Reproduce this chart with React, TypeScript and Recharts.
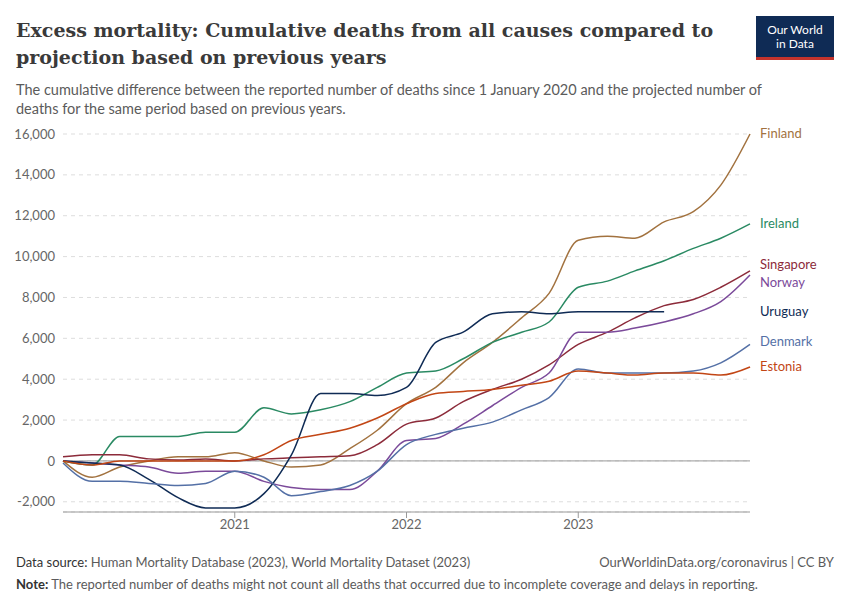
import React from "react";
import { LineChart, Line, XAxis, YAxis, CartesianGrid, ReferenceLine, LabelList } from "recharts";

const times = [2020, 2020.17, 2020.33, 2020.5, 2020.67, 2020.83, 2021, 2021.17, 2021.33, 2021.5, 2021.67, 2021.83, 2022, 2022.17, 2022.33, 2022.5, 2022.67, 2022.83, 2023, 2023.17, 2023.33, 2023.5, 2023.67, 2023.83, 2024];
const finland = [0, -800, -300, 0, 200, 200, 400, 0, -300, -200, 600, 1500, 2800, 3600, 4800, 5800, 7000, 8200, 10800, 11000, 10900, 11700, 12200, 13500, 16000];
const ireland = [0, -200, 1200, 1200, 1200, 1400, 1400, 2600, 2300, 2500, 2900, 3600, 4300, 4400, 5000, 5800, 6300, 6800, 8500, 8800, 9300, 9800, 10400, 10900, 11600];
const singapore = [200, 300, 300, 100, 50, 100, 0, 100, 150, 200, 250, 800, 1800, 2100, 2900, 3500, 4000, 4700, 5700, 6300, 7000, 7600, 7900, 8500, 9300];
const norway = [0, -100, -200, -300, -600, -500, -500, -1000, -1300, -1400, -1400, -500, 1000, 1100, 1800, 2700, 3600, 4300, 6300, 6300, 6500, 6800, 7200, 7800, 9100];
const uruguay = [0, -100, -200, -900, -1800, -2300, -2300, -1600, 300, 3300, 3300, 3200, 3600, 5800, 6300, 7200, 7300, 7200, 7300, 7300, 7300, 7300, null, null, null];
const denmark = [-100, -1000, -1000, -1100, -1200, -1100, -500, -800, -1700, -1500, -1200, -500, 800, 1300, 1600, 1900, 2500, 3100, 4500, 4300, 4300, 4300, 4400, 4800, 5700];
const estonia = [0, -200, 0, 0, 0, 0, 0, 300, 1000, 1300, 1600, 2100, 2800, 3300, 3400, 3500, 3700, 3900, 4400, 4300, 4200, 4300, 4300, 4200, 4600];

const series = [
  { key: "Finland", vals: finland, color: "#a2723f", labelDy: 0 },
  { key: "Ireland", vals: ireland, color: "#2a8a63", labelDy: 0 },
  { key: "Singapore", vals: singapore, color: "#8c2b3a", labelDy: -6 },
  { key: "Norway", vals: norway, color: "#7b4a9a", labelDy: 8 },
  { key: "Uruguay", vals: uruguay, color: "#0f2b55", labelDy: 0 },
  { key: "Denmark", vals: denmark, color: "#5470a6", labelDy: -2 },
  { key: "Estonia", vals: estonia, color: "#c24615", labelDy: 0 },
];

const data = times.map((t, i) => {
  const row: any = { t };
  series.forEach((s) => (row[s.key] = s.vals[i]));
  return row;
});

const fmt = (v: number) => v.toLocaleString("en-US");

export default function App() {
  return (
    <div style={{ width: 834, fontFamily: "Lato, sans-serif", position: "relative", height: 584 }}>
      <div style={{ position: "absolute", left: 8, top: 9, fontFamily: "'DejaVu Serif', serif", fontWeight: 700, fontSize: 19, color: "#3a3a3a", lineHeight: "27px", width: 720 }}>
        Excess mortality: Cumulative deaths from all causes compared to projection based on previous years
      </div>
      <div style={{ position: "absolute", right: 8, top: 8, width: 78, height: 44, background: "#0f2b55", color: "#fff", fontSize: 12, textAlign: "center", lineHeight: "14px", paddingTop: 7, boxSizing: "border-box", borderBottom: "3px solid #c4332c" }}>
        Our World<br />in Data
      </div>
      <div style={{ position: "absolute", left: 8, top: 72, fontSize: 14.5, color: "#5b5b5b", lineHeight: "19px", width: 790 }}>
        The cumulative difference between the reported number of deaths since 1 January 2020 and the projected number of deaths for the same period based on previous years.
      </div>
      <div style={{ position: "absolute", left: 0, top: 112 }}>
        <LineChart width={834} height={422} data={data} margin={{ top: 14, right: 92, bottom: 0, left: 0 }}>
          <CartesianGrid vertical={false} stroke="#dddddd" strokeDasharray="4 4" />
          <XAxis dataKey="t" type="number" domain={[2020, 2024]} ticks={[2021, 2022, 2023]} tickFormatter={(v) => String(v)} tick={{ fill: "#666", fontSize: 13 }} tickLine={{ stroke: "#999" }} axisLine={{ stroke: "#999" }} />
          <YAxis domain={[-2500, 16000]} ticks={[-2000, 0, 2000, 4000, 6000, 8000, 10000, 12000, 14000, 16000]} tickFormatter={fmt} tick={{ fill: "#666", fontSize: 13 }} axisLine={false} tickLine={false} width={55} />
          <ReferenceLine y={0} stroke="#999" />
          {series.map((s) => (
            <Line key={s.key} dataKey={s.key} stroke={s.color} strokeWidth={1.5} dot={false} type="monotone" isAnimationActive={false} connectNulls={false}>
              <LabelList dataKey={s.key} content={(p: any) => {
                const last = s.vals.reduce((acc: number, v, i) => (v != null ? i : acc), 0);
                if (p.index !== last) return null;
                return <text x={752} y={p.y + 4 + s.labelDy} fill={s.color} fontSize={13}>{s.key}</text>;
              }} />
            </Line>
          ))}
        </LineChart>
      </div>
      <div style={{ position: "absolute", left: 8, top: 546, fontSize: 13, color: "#5b5b5b" }}>
        <b style={{ fontWeight: 400, color: "#333" }}>Data source:</b> Human Mortality Database (2023), World Mortality Dataset (2023)
      </div>
      <div style={{ position: "absolute", right: 8, top: 546, fontSize: 13, color: "#5b5b5b" }}>
        OurWorldinData.org/coronavirus | CC BY
      </div>
      <div style={{ position: "absolute", left: 8, top: 568, fontSize: 13, color: "#5b5b5b" }}>
        <b style={{ color: "#333" }}>Note:</b> The reported number of deaths might not count all deaths that occurred due to incomplete coverage and delays in reporting.
      </div>
    </div>
  );
}
